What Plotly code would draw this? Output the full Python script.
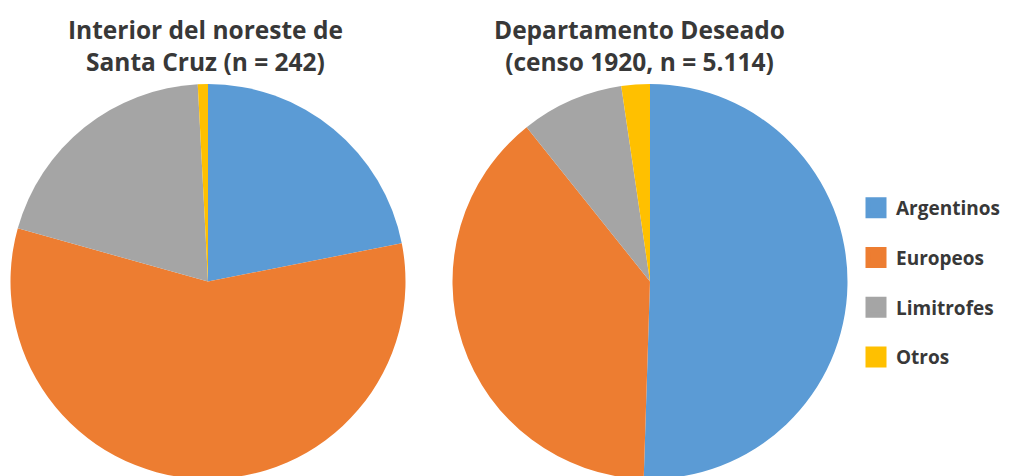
import plotly.graph_objects as go

categories = ["Argentinos", "Europeos", "Limitrofes", "Otros"]
colors = ["#5B9BD5", "#ED7D31", "#A5A5A5", "#FFC000"]

left_title = "Interior del noreste de<br>Santa Cruz (n = 242)"
left_values = [53, 139, 48, 2]

right_title = "Departamento Deseado<br>(censo 1920, n = 5.114)"
right_values = [2583, 1982, 430, 119]

# page body has an 8px margin; positions below are given in page pixels
OFF = 8
W, H = 1003, 471
FONT = "Open Sans"
TXT = "#383838"

fig = go.Figure()

def fx(p):
    return (p - OFF) / W

def fy(p):
    return 1 - (p - OFF) / H

pie_common = dict(
    labels=categories,
    marker=dict(colors=colors, line=dict(width=0)),
    sort=False,
    direction="clockwise",
    rotation=0,
    textinfo="none",
    hoverinfo="label+value+percent",
    showlegend=False,
)

fig.add_trace(go.Pie(values=left_values, domain=dict(x=[fx(10), fx(406)], y=[0, fy(84)]), **pie_common))
fig.add_trace(go.Pie(values=right_values, domain=dict(x=[fx(452), fx(848)], y=[0, fy(84)]), **pie_common))

# legend entries
for cat, col in zip(categories, colors):
    fig.add_trace(go.Scatter(
        x=[None], y=[None], mode="markers", name=cat,
        marker=dict(symbol="square", size=16, color=col, line=dict(color=col, width=5)),
        legendgroup=cat, showlegend=True,
    ))

title_font = dict(family=FONT, size=24.5, color=TXT, weight="bold")
fig.add_annotation(text=left_title, x=fx(205), y=fy(46), xref="paper", yref="paper",
                   showarrow=False, font=title_font, xanchor="center", yanchor="middle")
fig.add_annotation(text=right_title, x=fx(639), y=fy(46), xref="paper", yref="paper",
                   showarrow=False, font=title_font, xanchor="center", yanchor="middle")

fig.update_layout(
    width=W, height=H,
    margin=dict(l=0, r=0, t=0, b=0),
    paper_bgcolor="white", plot_bgcolor="white",
    xaxis=dict(visible=False), yaxis=dict(visible=False),
    legend=dict(x=fx(856), y=fy(189), xanchor="left", yanchor="top",
                font=dict(family=FONT, size=19, color=TXT, weight="bold"),
                tracegroupgap=22, itemsizing="trace", bgcolor="rgba(0,0,0,0)"),
    font=dict(family=FONT),
)

fig.write_html("out.html")
